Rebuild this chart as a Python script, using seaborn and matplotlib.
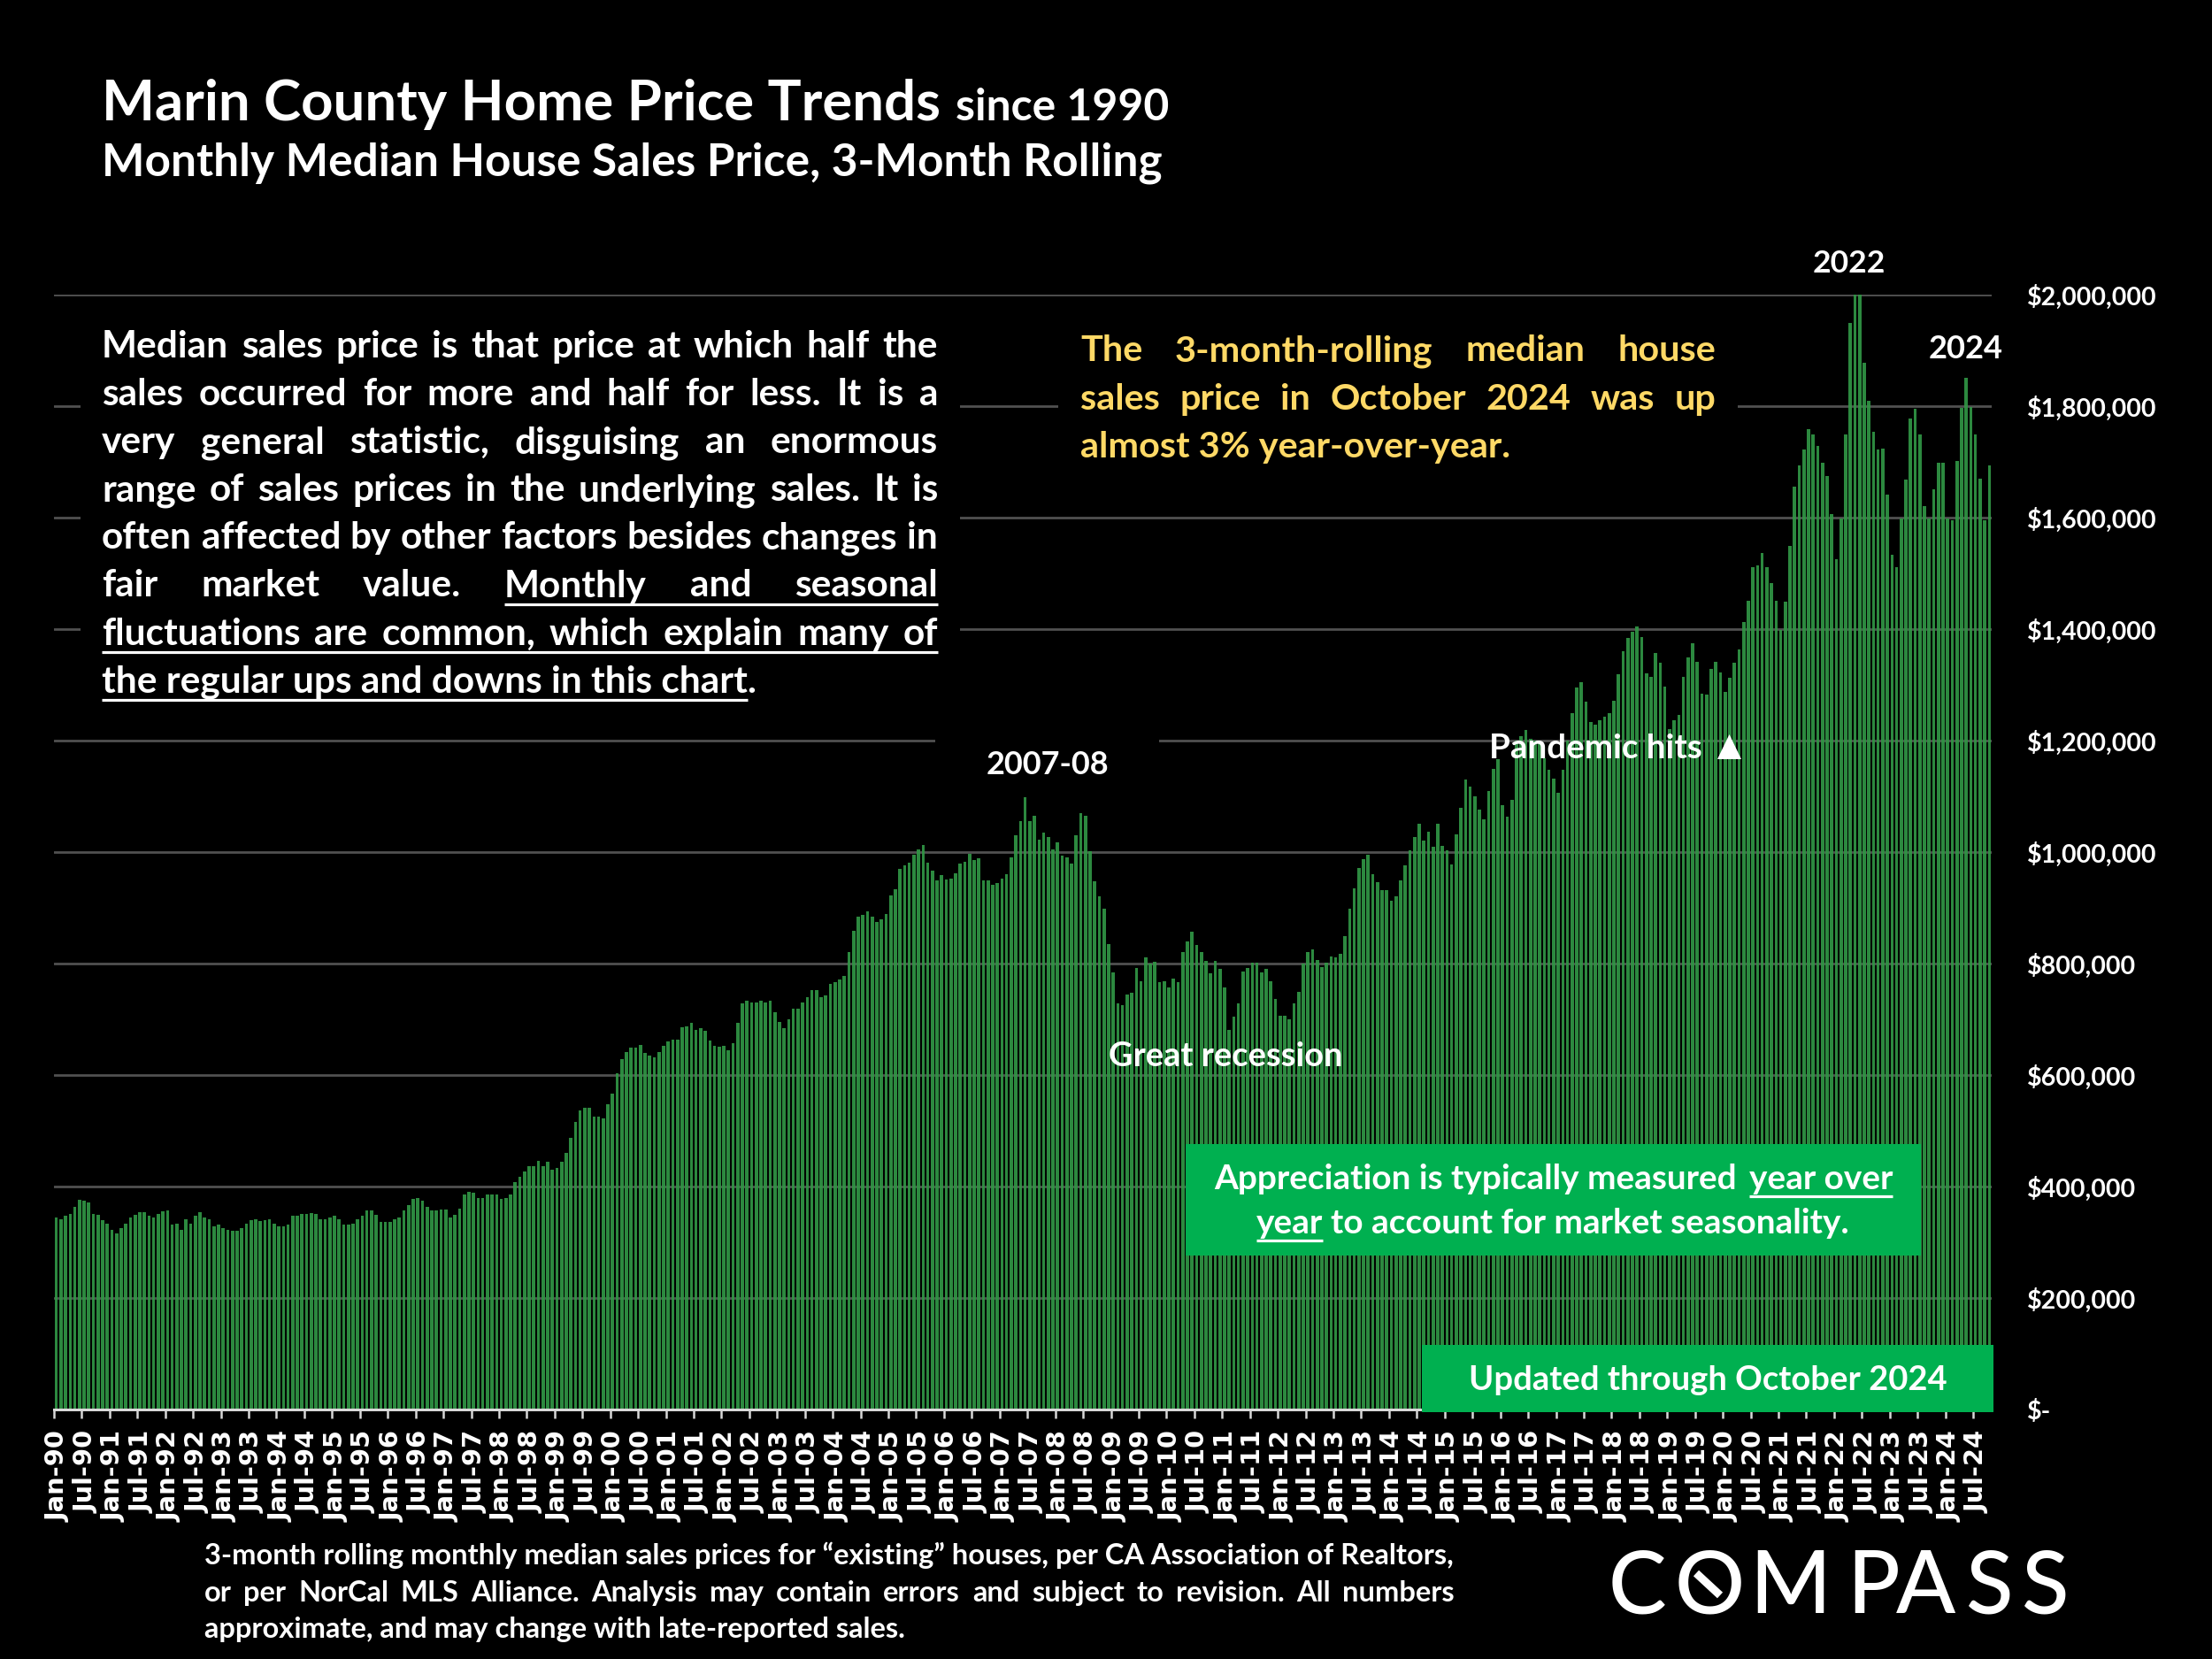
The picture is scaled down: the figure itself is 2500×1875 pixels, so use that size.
import matplotlib
matplotlib.use("Agg")
import matplotlib.pyplot as plt
import seaborn as sns
import pandas as pd
from matplotlib.patches import Rectangle, Polygon
from matplotlib.lines import Line2D
from matplotlib.transforms import ScaledTranslation

# ---------- DATA (median price, $ thousands) ----------
y1990 = [345,341,347,351,363,376,374,371,351,349,339,334]
y1991 = [322,316,325,334,345,350,354,354,347,345,351,355]
y1992 = [357,331,334,323,342,334,347,354,345,341,328,332]
y1993 = [325,323,320,321,326,334,339,342,338,339,341,334]
y1994 = [328,328,331,348,347,351,351,353,351,342,342,345]
y1995 = [347,341,332,332,334,341,347,357,357,350,336,336]
y1996 = [336,342,344,357,367,377,380,375,363,357,357,358]
y1997 = [359,345,350,360,386,390,389,380,380,385,385,385]
y1998 = [378,380,386,408,418,427,436,436,446,437,444,430]
y1999 = [433,444,460,487,516,537,542,541,526,526,522,548]
y2000 = [566,603,628,641,650,649,654,640,635,631,641,652]
y2001 = [660,663,663,686,688,694,681,684,679,662,652,651]
y2002 = [652,645,657,693,729,734,730,730,734,730,733,713]
y2003 = [696,684,700,719,719,730,739,752,752,739,743,763]
y2004 = [767,771,777,820,859,884,887,893,884,875,880,889]
y2005 = [922,933,970,976,981,995,1004,1013,981,966,949,959]
y2006 = [951,953,962,979,983,997,986,989,949,950,942,944]
y2007 = [953,961,990,1030,1055,1098,1056,1065,1023,1035,1027,1004]
y2008 = [1017,993,991,979,1030,1070,1065,1001,948,920,899,835]
y2009 = [784,728,726,744,747,792,769,811,800,803,766,769]
y2010 = [757,773,767,820,840,857,833,820,804,783,804,790]
y2011 = [757,681,705,728,786,792,802,802,784,790,768,736]
y2012 = [707,707,700,728,749,800,820,825,807,794,802,812]
y2013 = [811,817,849,899,935,972,987,996,960,946,932,932]
y2014 = [912,921,950,976,1003,1027,1051,1020,1036,1010,1051,1011]
y2015 = [1003,978,1032,1079,1130,1117,1100,1076,1059,1109,1150,1166]
y2016 = [1084,1064,1093,1200,1208,1219,1203,1200,1195,1168,1147,1131]
y2017 = [1106,1148,1200,1250,1296,1304,1270,1234,1228,1237,1243,1250]
y2018 = [1272,1319,1360,1384,1396,1405,1385,1321,1314,1357,1339,1297]
y2019 = [1221,1236,1246,1314,1349,1374,1342,1284,1282,1329,1342,1322]
y2020 = [1288,1313,1339,1363,1413,1451,1511,1515,1536,1511,1482,1451]
y2021 = [1399,1450,1549,1655,1694,1722,1758,1750,1728,1699,1675,1607]
y2022 = [1525,1599,1750,1949,2000,2000,1877,1809,1754,1722,1724,1641]
y2023 = [1534,1511,1599,1668,1777,1795,1750,1620,1599,1651,1699,1699]
y2024 = [1599,1595,1701,1797,1851,1799,1750,1670,1595,1694]
year_rows = [y1990,y1991,y1992,y1993,y1994,y1995,y1996,y1997,y1998,y1999,y2000,y2001,
             y2002,y2003,y2004,y2005,y2006,y2007,y2008,y2009,y2010,y2011,y2012,y2013,
             y2014,y2015,y2016,y2017,y2018,y2019,y2020,y2021,y2022,y2023,y2024]
month_names = ["Jan","Feb","Mar","Apr","May","Jun","Jul","Aug","Sep","Oct","Nov","Dec"]
y_ticks = [0,200000,400000,600000,800000,1000000,1200000,1400000,1600000,1800000,2000000]
y_labels = ["$-","$200,000","$400,000","$600,000","$800,000","$1,000,000","$1,200,000",
            "$1,400,000","$1,600,000","$1,800,000","$2,000,000"]

months, prices = [], []
for k, row in enumerate(year_rows):
    yy = (1990 + k) % 100
    for m, v in enumerate(row):
        months.append(f"{month_names[m]}-{yy:02d}")
        prices.append(v * 1000)
df = pd.DataFrame({"month": months, "price": prices})

# ---------- FIGURE ----------
W, H = 2500, 1875
sns.set_theme(style="dark")
plt.rcParams["font.family"] = ["Lato", "DejaVu Sans"]
BLACK = "#000000"
fig = plt.figure(figsize=(W/100, H/100), dpi=100, facecolor=BLACK)
AX_L, AX_R, AX_T, AX_B = 61, 2251, 333, 1593
ax = fig.add_axes([AX_L/W, 1-AX_B/H, (AX_R-AX_L)/W, (AX_B-AX_T)/H], facecolor=BLACK)

sns.barplot(data=df, x="month", y="price", color="#319645", saturation=1, width=0.70,
            linewidth=0, alpha=0.92, ax=ax, zorder=2)
ax.set_xlim(-0.5, len(months)-0.5)
ax.set_ylim(0, 2000000)
ax.set_xlabel(""); ax.set_ylabel("")
ax.set_axisbelow(True)
ax.grid(False)
ax.yaxis.grid(True, color="#505050", linewidth=2.0)

tick_idx = list(range(0, len(months), 6))
ax.set_xticks([i-0.5 for i in tick_idx])
ax.set_xticklabels([months[i] for i in tick_idx], rotation=90, color="white",
                   fontfamily="DejaVu Sans", fontweight="bold", fontsize=20.8, ha="center", va="top")
ax.tick_params(axis="x", length=7.2, width=1.8, color="#d9d9d9", pad=10, bottom=True)
xshift = ScaledTranslation(5/100, 0, fig.dpi_scale_trans)
for lab in ax.get_xticklabels():
    lab.set_transform(lab.get_transform() + xshift)
ax.yaxis.tick_right()
ax.set_yticks(y_ticks)
ax.set_yticklabels(y_labels, color="white", fontweight="bold", fontsize=20.6)
ax.tick_params(axis="y", length=0, pad=28.8, right=False)
for s in ["top","left","right"]:
    ax.spines[s].set_visible(False)
ax.spines["bottom"].set_color("#d9d9d9")
ax.spines["bottom"].set_linewidth(2.2)

fig.canvas.draw()
R = fig.canvas.get_renderer()
FT = fig.transFigure

def width(s, size, weight="bold", family="Lato"):
    t = fig.text(0, 0, s, fontsize=size, fontweight=weight, family=family)
    w = t.get_window_extent(R).width
    t.remove()
    return w

def fit(s, w_px, weight="bold"):
    return 40 * w_px / width(s, 40, weight)

def T(x, y, s, size, color="white", weight="bold", ha="left", z=10):
    return ax.text(x/W, 1-y/H, s, transform=FT, fontsize=size, color=color, fontweight=weight,
                   ha=ha, va="baseline", zorder=z, clip_on=False)

def rect(x0, y0, x1, y1, color, z):
    ax.add_artist(Rectangle((x0/W, 1-y1/H), (x1-x0)/W, (y1-y0)/H, transform=FT,
                            facecolor=color, edgecolor="none", zorder=z, clip_on=False))

def uline(x0, x1, y, color="white", lw=2.3, z=10):
    ax.add_artist(Line2D([x0/W, x1/W], [1-y/H, 1-y/H], transform=FT, color=color, lw=lw,
                         solid_capstyle="butt", zorder=z, clip_on=False))

def just(x0, x1, y, line, size, color="white", u_from=None, u_y=None):
    """Justified line: words spread between x0 and x1, optional underline from word index."""
    words = line.split(" ")
    ws = [width(w, size) for w in words]
    gap = (x1-x0-sum(ws)) / (len(words)-1)
    x = x0
    for k, (w, wd) in enumerate(zip(words, ws)):
        T(x, y, w, size, color=color)
        if u_from == k:
            uline(x, x1, u_y)
        x += wd + gap

# masks behind text blocks (hide the gridlines)
rect(91, 350, 1085, 800, BLACK, 1)
rect(1057, 820, 1310, 880, BLACK, 1)
rect(1196, 370, 1964, 530, BLACK, 1)
rect(2010, 280, 2170, 333, BLACK, 1)

# titles
T(115, 136, "Marin County Home Price Trends", fit("Marin County Home Price Trends", 948))
T(1080, 136, "since 1990", fit("since 1990", 241))
T(115, 198, "Monthly Median House Sales Price, 3-Month Rolling",
  fit("Monthly Median House Sales Price, 3-Month Rolling", 1197))

# body paragraph
body_lines = ["Median sales price is that price at which half the",
              "sales occurred for more and half for less. It is a",
              "very general statistic, disguising an enormous",
              "range of sales prices in the underlying sales. It is",
              "often affected by other factors besides changes in",
              "fair market value. Monthly and seasonal",
              "fluctuations are common, which explain many of"]
body_last = "the regular ups and downs in this chart"
BL, BR = 115, 1060
bs = min(fit(l, BR-BL) for l in body_lines) * 0.995
LH = 54.1
for k, l in enumerate(body_lines):
    by = 404 + k*LH
    if k == 5:
        just(BL, BR, by, l, bs, u_from=3, u_y=by+8)
    elif k == 6:
        just(BL, BR, by, l, bs, u_from=0, u_y=by+8)
    else:
        just(BL, BR, by, l, bs)
by = 404 + 7*LH
T(BL, by, body_last + ".", bs)
uline(BL, BL+width(body_last, bs), by+8)

# yellow note
YEL = "#FFD966"
ys = fit("almost 3% year-over-year.", 486)
just(1221, 1939, 408, "The 3-month-rolling median house", ys, color=YEL)
just(1221, 1939, 463, "sales price in October 2024 was up", ys, color=YEL)
T(1221, 517, "almost 3% year-over-year.", ys, color=YEL)

# annotations
T(1115, 875, "2007-08", fit("2007-08", 139))
T(1253, 1205, "Great recession", fit("Great recession", 264))
T(2049, 308, "2022", fit("2022", 82))
T(2180, 405, "2024", fit("2024", 84))
T(1683, 857, "Pandemic hits", fit("Pandemic hits", 240))
ax.add_artist(Polygon([(1941/W, 1-858/H), (1968/W, 1-858/H), (1954.5/W, 1-830/H)], closed=True,
                      transform=FT, facecolor="white", edgecolor="none", zorder=10, clip_on=False))

# green boxes
GRN = "#00B050"
rect(1340, 1293, 2171, 1419, GRN, 8)
gs = min(fit("Appreciation is typically measured year over", 767),
         fit("year to account for market seasonality.", 670))
T(1372, 1344, "Appreciation is typically measured", gs)
x_y = 2139 - width("year over", gs)
T(x_y, 1344, "year over", gs)
uline(x_y, 2139, 1352)
T(1420, 1394, "year", gs)
x_t = 2090 - width("to account for market seasonality.", gs)
T(x_t, 1394, "to account for market seasonality.", gs)
uline(1420, 1420+width("year", gs), 1402)
rect(1607, 1520, 2253, 1596, GRN, 8)
T(1660, 1571, "Updated through October 2024", fit("Updated through October 2024", 540))

# footer
FL, FR = 231, 1644
fs = fit("3-month rolling monthly median sales prices for “existing” houses, per CA Association of Realtors,", FR-FL)
T(FL, 1768, "3-month rolling monthly median sales prices for “existing” houses, per CA Association of Realtors,", fs)
just(FL, FR, 1810, "or per NorCal MLS Alliance. Analysis may contain errors and subject to revision. All numbers", fs)
T(FL, 1851, "approximate, and may change with late-reported sales.", fs)

# logo wordmark
logo_letters = ["C","O","M","P","A","S","S"]
logo_x = [1850, 1932, 2023, 2117, 2177, 2249, 2312]
for ch, lx in zip(logo_letters, logo_x):
    T(lx, 1823, ch, 71, weight=500, ha="center")
ax.add_artist(Line2D([1917/W, 1944/W], [1-1778/H, 1-1803/H], transform=FT, color="white", lw=6.5,
                     solid_capstyle="butt", zorder=10, clip_on=False))

fig.savefig("out.png", dpi=100, facecolor=BLACK)
